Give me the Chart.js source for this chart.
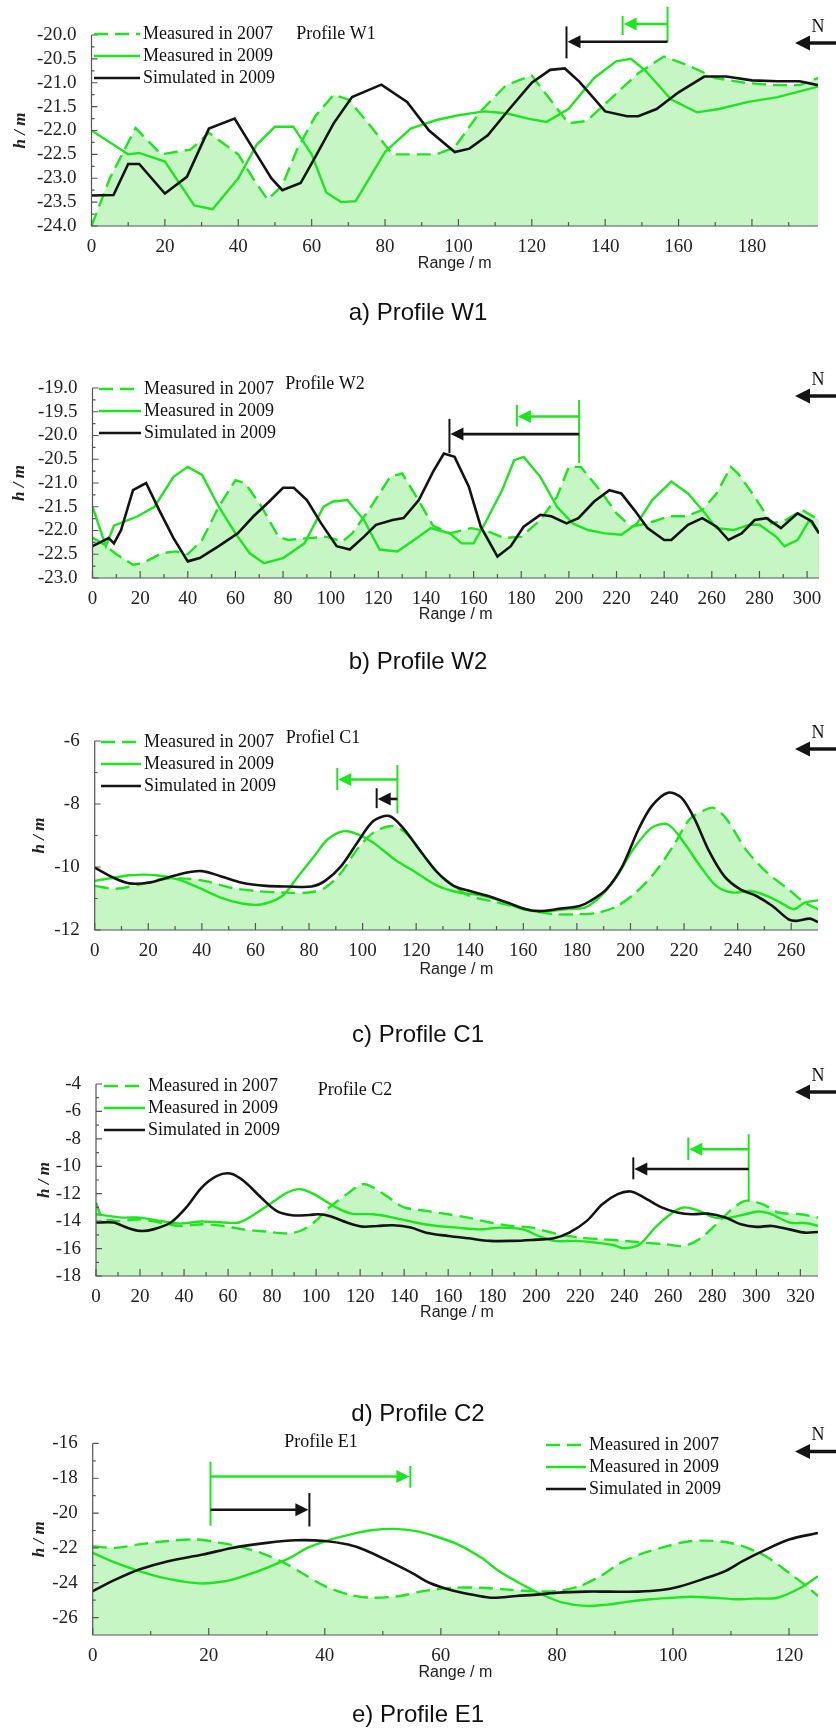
<!DOCTYPE html>
<html>
<head>
<meta charset="utf-8">
<script src="https://cdn.jsdelivr.net/npm/chart.js@4.4.1/dist/chart.umd.min.js"></script>
<style>
  html, body { margin: 0; padding: 0; background: #fff; }
  body { width: 836px; height: 1728px; position: relative; overflow: hidden; }
  canvas { position: absolute; left: 0; }
</style>
</head>
<body>
<canvas id="w1"></canvas>
<canvas id="w2"></canvas>
<canvas id="c1"></canvas>
<canvas id="c2"></canvas>
<canvas id="e1"></canvas>
<script>
// ---- data (range in m, depth h in m) ----
const seriesNames = ['Measured in 2007', 'Measured in 2009', 'Simulated in 2009'];

// Profile W1
const w1Range07 = [0, 5, 12, 19, 23, 27, 32, 40, 44, 48, 52, 56, 61, 66, 70, 76, 82, 88, 94, 99, 106, 113, 120, 125, 130, 135, 142, 149, 156, 163, 170, 178, 186, 193, 198];
const w1Depth07 = [-24.0, -23.0, -21.95, -22.5, -22.45, -22.4, -22.05, -22.5, -23.0, -23.45, -23.15, -22.4, -21.7, -21.25, -21.35, -21.9, -22.5, -22.5, -22.5, -22.35, -21.6, -21.05, -20.85, -21.35, -21.85, -21.8, -21.3, -20.8, -20.45, -20.65, -20.9, -21.0, -21.05, -21.05, -20.9];
const w1Range09 = [0, 10, 13, 20, 28, 33, 40, 45, 50, 55, 60, 64, 68, 72, 80, 87, 94, 100, 107, 113, 119, 124, 130, 137, 143, 147, 151, 158, 165, 171, 179, 187, 192, 198];
const w1Depth09 = [-22.0, -22.5, -22.47, -22.65, -23.57, -23.65, -23.0, -22.3, -21.92, -21.92, -22.5, -23.3, -23.5, -23.48, -22.45, -21.96, -21.78, -21.68, -21.6, -21.64, -21.75, -21.82, -21.55, -20.9, -20.55, -20.5, -20.75, -21.35, -21.62, -21.55, -21.4, -21.3, -21.2, -21.08];
const w1RangeSim = [0, 6, 10, 13, 20, 26, 32, 39, 45, 49, 52, 57, 61, 66, 71, 79, 86, 92, 99, 103, 108, 114, 120, 125, 129, 133, 140, 146, 149, 154, 160, 167, 173, 180, 187, 193, 198];
const w1DepthSim = [-23.36, -23.35, -22.7, -22.7, -23.32, -22.97, -21.96, -21.75, -22.5, -23.0, -23.25, -23.1, -22.55, -21.85, -21.3, -21.04, -21.4, -22.0, -22.45, -22.38, -22.1, -21.54, -21.0, -20.73, -20.7, -20.98, -21.6, -21.7, -21.7, -21.55, -21.2, -20.87, -20.87, -20.95, -20.97, -20.97, -21.05];

// Profile W2
const w2Range07 = [0, 5, 10, 17, 21, 29, 35, 40, 46, 53, 60, 64, 71, 78, 82, 91, 98, 105, 109, 116, 125, 130, 136, 143, 150, 159, 166, 173, 180, 188, 195, 200, 205, 213, 220, 226, 233, 242, 249, 256, 262, 268, 271, 278, 285, 291, 298, 305];
const w2Depth07 = [-22.15, -22.3, -22.5, -22.72, -22.69, -22.48, -22.44, -22.5, -22.2, -21.5, -20.94, -21.0, -21.5, -22.13, -22.2, -22.16, -22.13, -22.23, -22.06, -21.57, -20.87, -20.8, -21.29, -21.9, -22.06, -21.95, -22.02, -22.16, -22.13, -21.78, -21.29, -20.66, -20.66, -21.15, -21.64, -21.92, -21.85, -21.7, -21.7, -21.57, -21.22, -20.66, -20.8, -21.29, -21.85, -21.78, -21.57, -21.78];
const w2Range09 = [0, 5.6, 9, 19, 26, 34, 40, 46, 53, 60, 66, 72, 80, 89, 97, 101, 107, 114, 120.5, 128, 135, 142, 150, 155, 160, 165.5, 172, 177, 181, 188, 195, 201.6, 208, 215, 222, 228.6, 235, 243, 250, 256, 262, 269, 276, 280, 287, 290.5, 296, 301, 305];
const w2Depth09 = [-21.5, -22.33, -21.9, -21.7, -21.5, -20.87, -20.66, -20.83, -21.5, -22.06, -22.48, -22.69, -22.58, -22.27, -21.5, -21.39, -21.36, -21.78, -22.4, -22.44, -22.2, -21.95, -22.06, -22.27, -22.27, -21.78, -21.15, -20.52, -20.45, -20.87, -21.5, -21.85, -21.99, -22.06, -22.09, -21.85, -21.36, -20.97, -21.22, -21.57, -21.95, -21.99, -21.88, -21.88, -22.13, -22.33, -22.2, -21.78, -22.06];
const w2RangeSim = [0, 6.8, 9, 12, 17, 22.5, 28, 34, 40, 45, 53, 61, 67.6, 74, 80, 84.5, 90, 96, 102.5, 108, 114, 119, 126, 130.6, 137, 143, 147.5, 152, 158, 163, 170, 175.6, 181, 188, 192.6, 199, 204, 210.6, 217, 222, 227.5, 233, 240, 243, 250, 256, 262, 267, 272.5, 278, 283, 289, 296, 302, 305];
const w2DepthSim = [-22.33, -22.16, -22.27, -21.99, -21.15, -21.0, -21.57, -22.16, -22.65, -22.58, -22.33, -22.06, -21.7, -21.4, -21.1, -21.1, -21.36, -21.85, -22.33, -22.4, -22.13, -21.88, -21.78, -21.74, -21.36, -20.76, -20.38, -20.45, -21.08, -21.92, -22.55, -22.33, -21.92, -21.67, -21.7, -21.85, -21.74, -21.39, -21.15, -21.22, -21.57, -21.95, -22.2, -22.2, -21.88, -21.74, -21.92, -22.2, -22.06, -21.78, -21.74, -21.95, -21.64, -21.81, -22.06];

// Profile C1
const c1Range07 = [0, 8, 17, 25, 34, 41, 51, 60, 70, 80, 86, 92, 98, 104, 111, 116, 122, 128, 134, 140, 148, 156, 164, 172, 180, 188, 195, 202, 209, 216, 222, 227, 231, 236, 243, 251, 259, 265, 270];
const c1Depth07 = [-10.6, -10.69, -10.55, -10.39, -10.37, -10.44, -10.66, -10.76, -10.81, -10.81, -10.66, -10.18, -9.44, -8.91, -8.7, -8.91, -9.54, -10.18, -10.6, -10.92, -11.08, -11.24, -11.4, -11.5, -11.5, -11.45, -11.24, -10.81, -10.18, -9.33, -8.49, -8.22, -8.12, -8.49, -9.44, -10.18, -10.71, -11.13, -11.34];
const c1Range09 = [0, 5, 13, 23, 31, 39, 47, 55, 62, 70, 76, 82, 87, 93, 98, 104, 112, 120, 128, 136, 144, 152, 160, 168, 176, 183, 189, 195, 201, 208, 214, 220, 226, 232, 238, 245, 251, 256, 261, 265, 270];
const c1Depth09 = [-10.44, -10.37, -10.26, -10.26, -10.39, -10.66, -10.97, -11.16, -11.19, -10.92, -10.29, -9.65, -9.12, -8.86, -8.96, -9.23, -9.76, -10.18, -10.6, -10.81, -10.9, -11.08, -11.34, -11.4, -11.34, -11.29, -10.92, -10.29, -9.44, -8.75, -8.65, -9.23, -9.97, -10.6, -10.81, -10.76, -10.92, -11.13, -11.34, -11.13, -11.06];
const c1RangeSim = [0, 7, 13, 20, 27, 34, 40, 47, 55, 64, 72, 81, 86, 92, 98, 104, 110, 115, 122, 128, 134, 140, 146, 154, 161, 166, 174, 181, 185, 191, 197, 203, 208, 214, 219, 224, 229, 235, 241, 247, 253, 259, 262, 267, 270];
const c1DepthSim = [-10.02, -10.34, -10.52, -10.5, -10.34, -10.18, -10.13, -10.29, -10.5, -10.6, -10.62, -10.62, -10.44, -9.97, -9.23, -8.54, -8.38, -8.75, -9.54, -10.18, -10.6, -10.76, -10.9, -11.13, -11.34, -11.4, -11.32, -11.24, -11.08, -10.71, -9.97, -8.8, -8.06, -7.64, -7.8, -8.49, -9.44, -10.29, -10.71, -10.92, -11.24, -11.66, -11.71, -11.64, -11.75];

// Profile C2
const c2Range07 = [0, 3, 10, 20, 29, 38, 48, 58, 67, 77, 87, 93, 99, 106, 114, 121, 126, 133, 140, 150, 160, 169, 179, 189, 198, 210, 220, 230, 240, 249, 259, 267, 274, 281, 288, 295, 303, 310, 320, 328];
const c2Depth07 = [-12.64, -13.74, -13.98, -13.86, -14.1, -14.35, -14.23, -14.35, -14.6, -14.76, -14.9, -14.7, -14.1, -13.0, -12.03, -11.3, -11.55, -12.28, -13.0, -13.25, -13.5, -13.74, -14.1, -14.35, -14.47, -14.96, -15.2, -15.32, -15.44, -15.57, -15.69, -15.81, -15.32, -14.35, -13.25, -12.52, -12.77, -13.37, -13.5, -13.74];
const c2Range09 = [0, 12, 20, 29, 38, 48, 58, 65, 72, 80, 87, 93, 99, 109, 116, 126, 135, 145, 155, 164, 174, 184, 194, 201, 208, 218, 227, 235, 240, 247, 254, 262, 267, 274, 281, 288, 295, 301, 307, 315, 323, 328];
const c2Depth09 = [-13.5, -13.74, -13.74, -13.98, -14.18, -14.03, -14.1, -14.1, -13.5, -12.64, -11.91, -11.67, -12.03, -13.0, -13.45, -13.5, -13.74, -14.1, -14.35, -14.47, -14.6, -14.47, -14.6, -15.08, -15.44, -15.44, -15.57, -15.74, -15.98, -15.69, -14.47, -13.37, -13.0, -13.25, -13.74, -13.74, -13.5, -13.3, -13.5, -14.1, -14.15, -14.35];
const c2RangeSim = [0, 8, 14, 20, 26, 34, 41, 48, 55, 61, 67, 75, 82, 89, 97, 101, 106, 114, 121, 128, 135, 143, 150, 160, 169, 179, 189, 198, 208, 215, 223, 230, 237, 243, 249, 257, 264, 271, 278, 286, 293, 300, 307, 315, 322, 328];
const c2DepthSim = [-14.1, -14.1, -14.47, -14.71, -14.6, -14.1, -13.0, -11.55, -10.7, -10.53, -11.06, -12.28, -13.25, -13.57, -13.55, -13.5, -13.62, -14.1, -14.4, -14.35, -14.3, -14.47, -14.84, -15.08, -15.25, -15.44, -15.44, -15.37, -15.25, -14.84, -13.98, -12.77, -12.03, -11.84, -12.28, -13.0, -13.37, -13.5, -13.45, -13.74, -14.23, -14.42, -14.35, -14.6, -14.84, -14.79];

// Profile E1
const e1Range07 = [0, 4, 8, 13, 18, 22, 25, 29, 33, 36, 40, 44, 48, 53, 57, 62, 67, 71, 76, 80, 84, 88, 91, 95, 99, 102, 105, 109, 112, 116, 120, 123, 125];
const e1Depth07 = [-21.9, -22.0, -21.8, -21.6, -21.52, -21.71, -21.9, -22.29, -22.86, -23.43, -24.19, -24.67, -24.86, -24.76, -24.48, -24.29, -24.29, -24.38, -24.48, -24.48, -24.19, -23.52, -22.86, -22.29, -21.9, -21.66, -21.58, -21.66, -21.9, -22.48, -23.43, -24.19, -24.76];
const e1Range09 = [0, 4, 8, 12, 15, 19, 23, 26, 30, 34, 37, 41, 45, 48, 52, 56, 59, 63, 67, 70, 74, 78, 81, 85, 89, 92, 96, 100, 103, 107, 111, 114, 118, 122, 125];
const e1Depth09 = [-22.29, -22.86, -23.33, -23.71, -23.9, -24.04, -23.9, -23.62, -23.14, -22.57, -22.0, -21.52, -21.18, -20.99, -20.91, -21.05, -21.33, -21.81, -22.57, -23.33, -24.1, -24.76, -25.14, -25.33, -25.24, -25.1, -24.95, -24.86, -24.8, -24.86, -24.95, -24.91, -24.86, -24.29, -23.62];
const e1RangeSim = [0, 4, 8, 13, 19, 24, 30, 35, 40, 44, 47, 51, 55, 58, 62, 66, 69, 73, 77, 80, 85, 89, 94, 98, 101, 105, 109, 112, 116, 120, 125];
const e1DepthSim = [-24.48, -23.81, -23.24, -22.76, -22.38, -22.0, -21.71, -21.56, -21.6, -21.81, -22.13, -22.76, -23.43, -24.0, -24.44, -24.72, -24.86, -24.76, -24.67, -24.57, -24.51, -24.51, -24.51, -24.42, -24.23, -23.81, -23.33, -22.76, -22.1, -21.52, -21.14];

// bedform shift arrows: from range, to range, at depth, end bar, start bar
const w1Shifts = [
  { color: 'green', from: 157, to: 145.3, at: -19.77, tip: [-19.6, -20.0], base: [-19.41, -20.14] },
  { color: 'black', from: 157, to: 130, at: -20.14, tip: [-19.82, -20.49], base: null }
];
const w2Shifts = [
  { color: 'green', from: 204.3, to: 179, at: -19.6, tip: [-19.36, -19.81], base: [-19.25, -20.58] },
  { color: 'black', from: 204.3, to: 150.7, at: -19.97, tip: [-19.65, -20.37], base: null }
];
const c1Shifts = [
  { color: 'green', from: 113, to: 91.3, at: -7.22, tip: [-6.86, -7.56], base: [-6.76, -8.3] },
  { color: 'black', from: 113, to: 106, at: -7.84, tip: [-7.5, -8.13], base: null }
];
const c2Shifts = [
  { color: 'green', from: 296.5, to: 270, at: -8.76, tip: [-7.9, -9.54], base: [-7.67, -12.58] },
  { color: 'black', from: 296.5, to: 245, at: -10.2, tip: [-9.35, -10.95], base: null }
];
const e1Shifts = [
  { color: 'green', from: 20.3, to: 54.4, at: -17.9, tip: [-17.3, -18.55], base: [-17.05, -20.73] },
  { color: 'black', from: 20.3, to: 37, at: -19.81, tip: [-18.85, -20.77], base: null }
];

// ---- styling ----
const SERIF = "'Liberation Serif', 'Times New Roman', serif";
const SANS = "'Liberation Sans', Arial, sans-serif";
const GREEN = '#1ee61e';
const BLACK = '#141414';
const FILL = '#c6f6c4';
const DASH = [14, 7];
const AXIS = '#555555';

const panels = [
  { id: 'w1', top: 0, chartTop: 35, chartBottom: 226, left: 91.5, right: 818, xMax: 198,
    yMin: -24, yMax: -20, yStep: 0.5, decimals: 1, titleY: 264, capY: 313, yTitleX: 21, tension: 0,
    data: [[w1Range07, w1Depth07], [w1Range09, w1Depth09], [w1RangeSim, w1DepthSim]],
    caption: 'a) Profile W1', profile: 'Profile W1', profileAt: [336, 34],
    legendAt: [94, 34], legendLen: 46, shifts: w1Shifts },
  { id: 'w2', top: 335, chartTop: 388, chartBottom: 578, left: 92.5, right: 819, xMax: 305,
    yMin: -23, yMax: -19, yStep: 0.5, decimals: 1, titleY: 615, capY: 662, yTitleX: 20, tension: 0,
    data: [[w2Range07, w2Depth07], [w2Range09, w2Depth09], [w2RangeSim, w2DepthSim]],
    caption: 'b) Profile W2', profile: 'Profile W2', profileAt: [325, 384],
    legendAt: [99, 389], legendLen: 42, shifts: w2Shifts },
  { id: 'c1', top: 690, chartTop: 741, chartBottom: 930, left: 94.7, right: 818, xMax: 270,
    yMin: -12, yMax: -6, yStep: 2, decimals: 0, titleY: 970, capY: 1035, yTitleX: 40, tension: 0.3,
    data: [[c1Range07, c1Depth07], [c1Range09, c1Depth09], [c1RangeSim, c1DepthSim]],
    caption: 'c) Profile C1', profile: 'Profiel C1', profileAt: [323, 738],
    legendAt: [101, 742], legendLen: 40, shifts: c1Shifts },
  { id: 'c2', top: 1050, chartTop: 1084, chartBottom: 1276, left: 96, right: 818, xMax: 328,
    yMin: -18, yMax: -4, yStep: 2, decimals: 0, titleY: 1313, capY: 1414, yTitleX: 45, tension: 0.3,
    data: [[c2Range07, c2Depth07], [c2Range09, c2Depth09], [c2RangeSim, c2DepthSim]],
    caption: 'd) Profile C2', profile: 'Profile C2', profileAt: [355, 1090],
    legendAt: [104, 1086], legendLen: 41, shifts: c2Shifts },
  { id: 'e1', top: 1425, chartTop: 1443, chartBottom: 1635, left: 92.7, right: 818, xMax: 125,
    yMin: -27, yMax: -16, yStep: 2, decimals: 0, titleY: 1673, capY: 1715, yTitleX: 40, tension: 0.3,
    data: [[e1Range07, e1Depth07], [e1Range09, e1Depth09], [e1RangeSim, e1DepthSim]],
    caption: 'e) Profile E1', profile: 'Profile E1', profileAt: [321, 1442],
    legendAt: [546, 1445], legendLen: 40, shifts: e1Shifts }
];
const panelById = {};
panels.forEach(p => { panelById[p.id] = p; });

function toPoints(xs, ys) {
  return xs.map((x, i) => ({ x: x, y: ys[i] }));
}

function head(ctx, tipX, tipY, dir, size, color) {
  ctx.fillStyle = color;
  ctx.beginPath();
  ctx.moveTo(tipX, tipY);
  ctx.lineTo(tipX - dir * size, tipY - size * 0.5);
  ctx.lineTo(tipX - dir * size, tipY + size * 0.5);
  ctx.closePath();
  ctx.fill();
}

// axes with inward ticks, legend, labels, shift arrows, north arrow, caption
const panelDeco = {
  id: 'panelDeco',
  afterDraw(chart) {
    const p = panelById[chart.canvas.id];
    const { ctx, chartArea: ca } = chart;
    const xs = chart.scales.x, ys = chart.scales.y;
    const off = p.top;
    ctx.save();

    // axis lines
    ctx.strokeStyle = AXIS;
    ctx.lineWidth = 1.2;
    ctx.beginPath();
    ctx.moveTo(ca.left, ca.top);
    ctx.lineTo(ca.left, ca.bottom);
    ctx.lineTo(ca.right, ca.bottom);
    ctx.stroke();

    // inward tick marks
    ctx.beginPath();
    xs.ticks.forEach(t => {
      const px = xs.getPixelForValue(t.value);
      ctx.moveTo(px, ca.bottom); ctx.lineTo(px, ca.bottom - 7);
      const mv = t.value + 10;
      if (mv < p.xMax) {
        const mx = xs.getPixelForValue(mv);
        ctx.moveTo(mx, ca.bottom); ctx.lineTo(mx, ca.bottom - 4);
      }
    });
    ys.ticks.forEach(t => {
      const py = ys.getPixelForValue(t.value);
      ctx.moveTo(ca.left, py); ctx.lineTo(ca.left + 6, py);
      const mv = t.value + p.yStep / 2;
      if (mv < p.yMax) {
        const my = ys.getPixelForValue(mv);
        ctx.moveTo(ca.left, my); ctx.lineTo(ca.left + 3, my);
      }
    });
    ctx.stroke();

    // legend
    const styles = [
      { color: GREEN, width: 2.4, dash: DASH },
      { color: GREEN, width: 2.4, dash: [] },
      { color: BLACK, width: 2.6, dash: [] }
    ];
    ctx.font = '18px ' + SERIF;
    ctx.textBaseline = 'middle';
    ctx.textAlign = 'left';
    seriesNames.forEach((name, i) => {
      const ly = p.legendAt[1] + i * 22 - off;
      const lx = p.legendAt[0];
      ctx.strokeStyle = styles[i].color;
      ctx.lineWidth = styles[i].width;
      ctx.setLineDash(styles[i].dash);
      ctx.beginPath();
      ctx.moveTo(lx, ly); ctx.lineTo(lx + p.legendLen, ly);
      ctx.stroke();
      ctx.setLineDash([]);
      ctx.fillStyle = '#111';
      ctx.fillText(name, lx + p.legendLen + 3, ly);
    });

    // profile label
    ctx.textAlign = 'center';
    ctx.fillStyle = '#111';
    ctx.fillText(p.profile, p.profileAt[0], p.profileAt[1] - off);

    // shift arrows
    p.shifts.forEach(s => {
      const color = s.color === 'green' ? GREEN : BLACK;
      const x0 = xs.getPixelForValue(s.from);
      const x1 = xs.getPixelForValue(s.to);
      const y = ys.getPixelForValue(s.at);
      const dir = x1 > x0 ? 1 : -1;
      ctx.strokeStyle = color;
      ctx.lineWidth = 2.6;
      ctx.beginPath();
      ctx.moveTo(x0, y); ctx.lineTo(x1 - dir * 8, y);
      ctx.stroke();
      head(ctx, x1 + dir * 1, y, dir, 13, color);
      ctx.lineWidth = 2;
      ctx.beginPath();
      ctx.moveTo(x1 + dir * 2, ys.getPixelForValue(s.tip[0]));
      ctx.lineTo(x1 + dir * 2, ys.getPixelForValue(s.tip[1]));
      if (s.base) {
        ctx.moveTo(x0, ys.getPixelForValue(s.base[0]));
        ctx.lineTo(x0, ys.getPixelForValue(s.base[1]));
      }
      ctx.stroke();
    });

    // north arrow
    const ny = ca.top + 8;
    ctx.strokeStyle = BLACK;
    ctx.lineWidth = 3.5;
    ctx.beginPath();
    ctx.moveTo(806, ny); ctx.lineTo(840, ny);
    ctx.stroke();
    head(ctx, 795, ny, -1, 15, BLACK);
    ctx.fillStyle = '#111';
    ctx.font = '18px ' + SERIF;
    ctx.textAlign = 'center';
    ctx.fillText('N', 818, ca.top - 8);

    // caption
    ctx.font = '24px ' + SANS;
    ctx.fillText(p.caption, 418, p.capY - off);
    ctx.restore();
  }
};

function makePanel(p) {
  const cv = document.getElementById(p.id);
  const height = p.capY - p.top + 22;
  cv.width = 836;
  cv.height = height;
  cv.style.top = p.top + 'px';
  const xAxisH = p.titleY + 9.6 - p.chartBottom;
  const padBottom = height - (p.chartBottom - p.top) - xAxisH;
  const tickFont = { family: SERIF, size: 19 };

  new Chart(cv, {
    type: 'line',
    data: {
      datasets: [
        { label: seriesNames[0], data: toPoints(p.data[0][0], p.data[0][1]), borderColor: GREEN,
          borderWidth: 2.4, borderDash: DASH, fill: 'start', backgroundColor: FILL, order: 3 },
        { label: seriesNames[1], data: toPoints(p.data[1][0], p.data[1][1]), borderColor: GREEN,
          borderWidth: 2.4, fill: false, order: 2 },
        { label: seriesNames[2], data: toPoints(p.data[2][0], p.data[2][1]), borderColor: BLACK,
          borderWidth: 2.6, fill: false, order: 1 }
      ]
    },
    options: {
      responsive: false,
      animation: false,
      devicePixelRatio: 1,
      elements: { point: { radius: 0 }, line: { tension: p.tension } },
      layout: { padding: { left: 0, top: p.chartTop - p.top, right: 836 - p.right, bottom: padBottom } },
      plugins: { legend: { display: false }, tooltip: { enabled: false } },
      scales: {
        x: {
          type: 'linear', min: 0, max: p.xMax,
          afterFit: s => { s.height = xAxisH; },
          grid: { display: false }, border: { display: false },
          ticks: { stepSize: 20, includeBounds: false, autoSkip: false, maxRotation: 0,
                   font: tickFont, color: '#222', padding: 2 },
          title: { display: true, text: 'Range / m', color: '#222',
                   font: { family: SANS, size: 16 }, padding: 0 }
        },
        y: {
          min: p.yMin, max: p.yMax,
          afterFit: s => { s.width = p.left; },
          grid: { display: false }, border: { display: false },
          ticks: { stepSize: p.yStep, includeBounds: false, autoSkip: false, font: tickFont,
                   color: '#222', padding: 7, callback: v => v.toFixed(p.decimals) },
          title: { display: true, text: 'h / m', color: '#222',
                   font: { family: SERIF, size: 17, style: 'italic', weight: 'bold' },
                   padding: { top: p.yTitleX - 10.2, bottom: 0 } }
        }
      }
    },
    plugins: [panelDeco]
  });
}

panels.forEach(makePanel);
</script>
</body>
</html>
